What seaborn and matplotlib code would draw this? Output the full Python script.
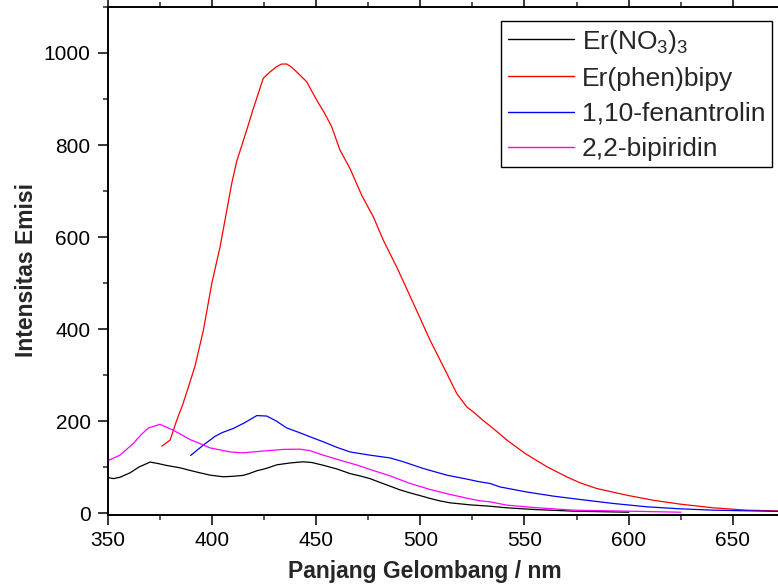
import numpy as np
import pandas as pd
import matplotlib
matplotlib.use("Agg")
import matplotlib.pyplot as plt
from matplotlib.ticker import MultipleLocator
import seaborn as sns

# Emission spectra (wavelength in nm, intensity in a.u.)
wl_nitrate = [350, 352.8, 356, 360.8, 365, 370.4, 374, 378.4, 384.8, 389.6, 394, 399.2,
              405.5, 410, 415, 418, 421.6, 426, 431.2, 437.5, 443.9, 448, 453.5, 460,
              466.3, 471, 475.9, 480, 485.5, 490, 495.1, 500, 504.7, 509, 514.3, 523.9,
              533.5, 541.5, 554.3, 573.5, 600]
int_nitrate = [77.5, 75, 78, 87.6, 100, 111, 108, 103.6, 98.5, 92.8, 88, 82.6,
               79, 80, 82, 86, 92, 97, 105, 109, 111.6, 110, 104, 96,
               86, 81, 75, 68, 58.7, 51, 44, 38, 32, 27, 22.4, 18,
               15, 11.6, 8, 4.3, 2]

wl_complex = [376, 380, 383.2, 386, 388.8, 392, 396, 400, 404, 409.6, 412, 416.8, 420,
              424.7, 428, 431, 433.5, 436, 438, 440.7, 445.5, 450.3, 454, 457.5, 461.5,
              466.3, 468.7, 472, 477.5, 482.3, 488.7, 496.7, 504.7, 512.7, 517.5, 522.3,
              526, 530, 535, 541.5, 550.2, 560.7, 570.2, 576.6, 584.6, 599, 611.8, 624.6,
              640.5, 656.3, 680]
int_complex = [145.6, 158.7, 202, 235, 274, 320, 398, 499, 579, 717, 765, 833, 880,
               945, 959, 970, 976, 976, 970, 959, 937.6, 898, 870, 840, 789,
               749, 724, 690, 644, 593, 535, 456, 376, 304, 260, 231,
               218, 202, 184, 159, 130, 101, 79, 66, 53.6, 39, 28, 19.6,
               11.6, 6.5, 4]

wl_phen = [389.9, 396, 401.6, 405, 410.3, 416, 421.6, 426.4, 431, 436, 442.3, 447.1,
           453.5, 460, 466.3, 475.9, 485.5, 491.9, 501.5, 512.7, 522.3, 528.6, 533.5,
           538.2, 551, 563.8, 576.6, 592.6, 608.6, 624.6, 640.5, 680]
int_phen = [125.4, 148, 167, 175, 184, 197, 212, 211, 200, 185, 174.6, 166,
            155, 143, 133, 126, 120, 111.6, 97, 82.6, 74, 68, 64.5,
            57, 46, 37, 29.7, 21, 13.8, 9.4, 6.5, 3]

wl_bipy = [350, 356, 362.4, 366, 369.6, 375.2, 381.6, 389.6, 395, 399, 408.8, 415,
           424.7, 434.3, 442.3, 447, 453.5, 463.1, 470, 475.9, 485.5, 495.1, 504.7,
           514.3, 523.9, 528.6, 533.5, 541.5, 554.3, 573.5, 599, 625]
int_bipy = [113.7, 126, 151.5, 170, 185, 193, 180, 160, 150, 142, 133, 131,
            135, 138.5, 139, 136, 126, 113, 104, 95, 81, 64.5, 51.4,
            40.6, 31, 26.8, 24.6, 17.4, 12.3, 6.5, 4.3, 2]

labels = ["Er(NO$_3$)$_3$", "Er(phen)bipy", "1,10-fenantrolin", "2,2-bipiridin"]
colors = ["#000000", "#FF0000", "#0000FF", "#FF00FF"]

frames = []
for name, wl, inten in zip(labels,
                           [wl_nitrate, wl_complex, wl_phen, wl_bipy],
                           [int_nitrate, int_complex, int_phen, int_bipy]):
    frames.append(pd.DataFrame({"wl": wl, "intensity": inten, "sample": name}))
df = pd.concat(frames, ignore_index=True)

sns.set_style("ticks")
plt.rcParams["font.family"] = ["Liberation Sans", "DejaVu Sans"]
plt.rcParams["mathtext.fontset"] = "custom"
plt.rcParams["mathtext.rm"] = "Liberation Sans"
plt.rcParams["mathtext.default"] = "regular"

fig = plt.figure(figsize=(7.78, 5.86), dpi=100)
ax = fig.add_axes([0.1382, 0.1212, 0.8843, 0.8669])

sns.lineplot(data=df, x="wl", y="intensity", hue="sample", hue_order=labels,
             palette=colors, sort=False, estimator=None, linewidth=0.9, ax=ax)

ax.set_xlim(350, 680)
ax.set_ylim(-4, 1100)

ax.xaxis.set_major_locator(MultipleLocator(50))
ax.xaxis.set_minor_locator(MultipleLocator(25))
ax.yaxis.set_major_locator(MultipleLocator(200))
ax.yaxis.set_minor_locator(MultipleLocator(100))
ax.set_yticks([0, 200, 400, 600, 800, 1000])

for side in ["left", "bottom", "top"]:
    ax.spines[side].set_linewidth(1.4)
    ax.spines[side].set_color("black")
ax.spines["right"].set_visible(False)

ax.tick_params(axis="both", which="major", direction="out", length=7.2, width=1.1,
               labelsize=15, colors="black")
ax.tick_params(axis="both", which="minor", direction="out", length=3.6, width=1.1)
ax.tick_params(axis="x", which="major", pad=4)
ax.tick_params(axis="y", which="major", pad=5)
ax.tick_params(axis="x", which="both", top=True, labeltop=False)
ax.tick_params(axis="y", which="both", right=False)

ax.set_xlabel("Panjang Gelombang / nm", fontsize=16.5, fontweight="bold",
              va="baseline", ha="center")
ax.xaxis.set_label_coords(0.4608, -0.1242)
ax.set_ylabel("Intensitas Emisi", fontsize=16.5, fontweight="bold",
              va="baseline", ha="center")
ax.yaxis.set_label_coords(-0.1083, 0.482)

handles, hlabels = ax.get_legend_handles_labels()
leg = ax.legend(handles, hlabels, loc="upper right",
                bbox_to_anchor=(772 / 778, 1 - 21 / 586),
                bbox_transform=fig.transFigure, borderaxespad=0,
                fontsize=19, frameon=True, fancybox=False, framealpha=1,
                edgecolor="black", handlelength=2.5, handletextpad=0.3,
                labelspacing=0.42, borderpad=0.25)
leg.get_frame().set_linewidth(1.0)
for line in leg.get_lines():
    line.set_linewidth(1.0)

fig.savefig("out.png", dpi=100)
